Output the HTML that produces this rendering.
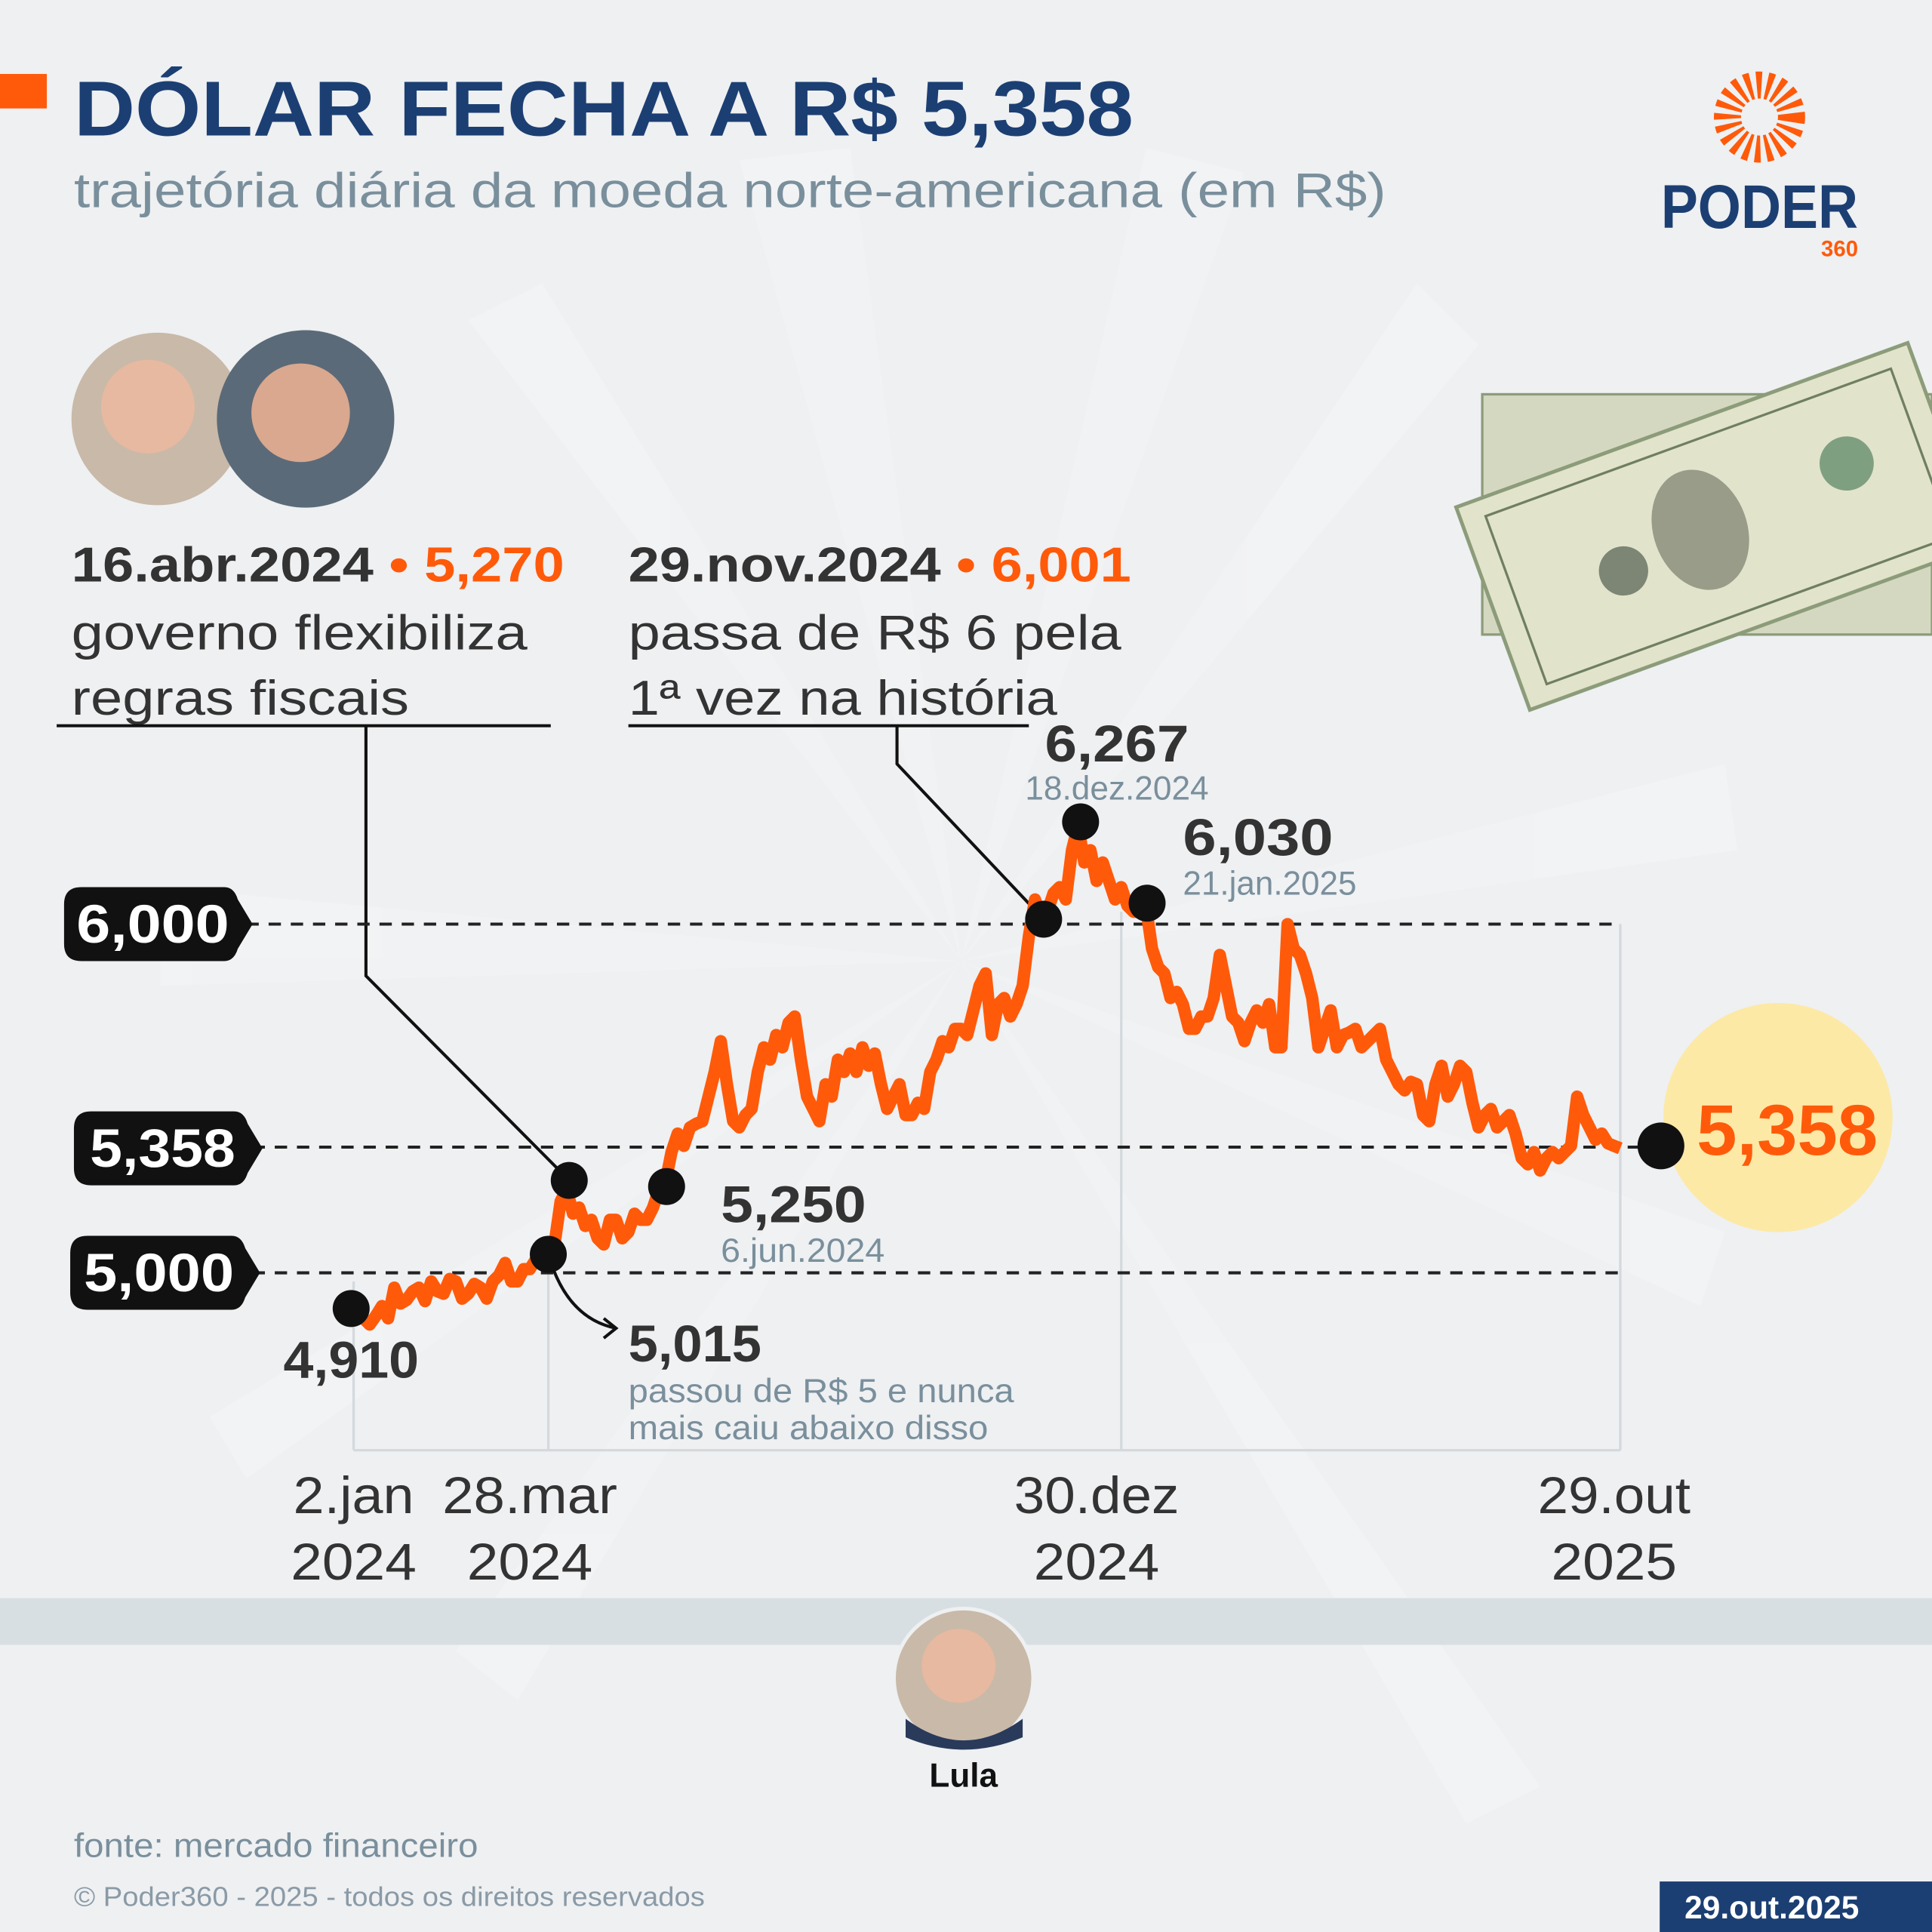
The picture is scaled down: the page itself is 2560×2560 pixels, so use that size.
<!DOCTYPE html>
<html><head><meta charset="utf-8"><style>
html,body{margin:0;padding:0;background:#eef0f2;}
svg{display:block}
text{font-family:"Liberation Sans",sans-serif;}
</style></head><body>
<svg width="2560" height="2560" viewBox="0 0 1568 1568" xmlns="http://www.w3.org/2000/svg">
<rect width="1568" height="1568" fill="#eef0f2"/>
<g fill="#f3f4f6" opacity="0.7">
<polygon points="780,780 600,130 690,120"/>
<polygon points="780,780 930,120 1010,140"/>
<polygon points="780,780 1150,230 1200,280"/>
<polygon points="780,780 1400,620 1410,690"/>
<polygon points="780,780 1400,1000 1380,1060"/>
<polygon points="780,780 1250,1450 1190,1480"/>
<polygon points="780,780 380,260 440,230"/>
<polygon points="780,780 130,720 130,800"/>
<polygon points="780,780 200,1200 170,1150"/>
<polygon points="780,780 420,1380 370,1340"/>
</g>
<rect x="0" y="60" width="38" height="28" fill="#ff5a0a"/>
<text x="60" y="110" font-size="63" font-weight="bold" fill="#1c3f73" textLength="860" lengthAdjust="spacingAndGlyphs">DÓLAR FECHA A R$ 5,358</text>
<text x="60" y="168" font-size="40" fill="#7a8f9c" textLength="1065" lengthAdjust="spacingAndGlyphs">trajetória diária da moeda norte-americana (em R$)</text>
<!-- logo -->
<circle cx="1428" cy="95" r="26" fill="none" stroke="#ff5a0a" stroke-dasharray="4 4" stroke-width="22"/>
<circle cx="1428" cy="95" r="14" fill="#eef0f2"/>
<text x="1428" y="185" font-size="50" font-weight="bold" fill="#1c3f73" text-anchor="middle" textLength="160" lengthAdjust="spacingAndGlyphs">PODER</text>
<text x="1508" y="208" font-size="18" font-weight="bold" fill="#ff5a0a" text-anchor="end">360</text>
<!-- photos -->
<circle cx="128" cy="340" r="70" fill="#c9b9a8"/>
<circle cx="120" cy="330" r="38" fill="#e6b9a0"/>
<circle cx="248" cy="340" r="72" fill="#5b6a78"/>
<circle cx="244" cy="335" r="40" fill="#d9a88f"/>
<!-- dollar bills -->
<rect x="1203" y="320" width="365" height="195" fill="#d5d8c0" stroke="#8c9c7a" stroke-width="2"/>
<g transform="rotate(-20 1380 430)">
<rect x="1200" y="345" width="390" height="175" fill="#e2e3cb" stroke="#8c9c7a" stroke-width="3"/>
<rect x="1220" y="360" width="350" height="145" fill="none" stroke="#6f7f60" stroke-width="2"/>
<ellipse cx="1380" cy="430" rx="38" ry="50" fill="#9a9c8a"/>
<circle cx="1310" cy="440" r="20" fill="#7d8575"/>
<circle cx="1510" cy="420" r="22" fill="#7fa080"/>
</g>
<!-- annotation texts -->
<text x="58" y="472" font-size="40" font-weight="bold" fill="#333" textLength="400" lengthAdjust="spacingAndGlyphs"><tspan>16.abr.2024 </tspan><tspan fill="#ff5a0a">• 5,270</tspan></text>
<text x="58" y="527" font-size="40" fill="#333" textLength="370" lengthAdjust="spacingAndGlyphs">governo flexibiliza</text>
<text x="58" y="580" font-size="40" fill="#333" textLength="274" lengthAdjust="spacingAndGlyphs">regras fiscais</text>
<text x="510" y="472" font-size="40" font-weight="bold" fill="#333" textLength="408" lengthAdjust="spacingAndGlyphs"><tspan>29.nov.2024 </tspan><tspan fill="#ff5a0a">• 6,001</tspan></text>
<text x="510" y="527" font-size="40" fill="#333" textLength="400" lengthAdjust="spacingAndGlyphs">passa de R$ 6 pela</text>
<text x="510" y="580" font-size="40" fill="#333" textLength="348" lengthAdjust="spacingAndGlyphs">1ª vez na história</text>
<g stroke="#111" stroke-width="2.5" fill="none">
<line x1="46" y1="589" x2="447" y2="589"/>
<polyline points="297,589 297,792 462,958"/>
<line x1="510" y1="589" x2="835" y2="589"/>
<polyline points="728,589 728,620 847,746"/>
<path d="M445,1018 Q460,1070 500,1078"/>
<polyline points="490,1070 500,1078 490,1086"/>
</g>
<!-- gridlines -->
<g stroke="#d4d9dd" stroke-width="2" fill="none">
<line x1="287" y1="1040" x2="287" y2="1177"/>
<line x1="445" y1="1020" x2="445" y2="1177"/>
<line x1="910" y1="740" x2="910" y2="1177"/>
<line x1="1315" y1="750" x2="1315" y2="1177"/>
<line x1="287" y1="1177" x2="1315" y2="1177"/>
</g>
<g stroke="#222" stroke-width="2.5" stroke-dasharray="10 8">
<line x1="200" y1="750" x2="1315" y2="750"/>
<line x1="205" y1="931" x2="1340" y2="931"/>
<line x1="205" y1="1033" x2="1315" y2="1033"/>
</g>
<!-- series -->
<polyline fill="none" stroke="#ff5a0a" stroke-width="10" stroke-linejoin="round" points="290,1065 300,1075 305,1068 310,1060 315,1070 320,1045 325,1058 330,1055 335,1048 340,1045 345,1056 350,1040 355,1048 360,1050 365,1038 370,1040 375,1054 380,1050 385,1042 390,1045 395,1054 400,1040 405,1035 410,1025 415,1040 420,1040 425,1030 430,1030 435,1022 440,1020 445,1018 450,1010 455,975 460,965 465,985 470,980 475,995 480,990 485,1005 490,1010 495,990 500,990 505,1005 510,1000 515,985 520,990 525,990 530,980 535,965 540,960 545,935 550,920 555,930 560,915 565,912 570,910 575,890 580,870 585,845 590,880 595,910 600,915 605,905 610,900 615,870 620,850 625,860 630,840 635,850 640,830 645,825 650,860 655,890 660,900 665,910 670,880 675,890 680,860 685,870 690,855 695,870 700,850 705,865 710,855 715,880 720,900 725,890 730,880 735,905 740,905 745,895 750,900 755,870 760,860 765,845 770,850 775,835 780,835 785,840 790,820 795,800 800,790 805,840 810,815 815,810 820,825 825,815 830,800 835,760 840,730 845,745 850,740 855,725 860,720 865,730 870,690 875,670 880,700 885,690 890,715 895,700 900,715 905,730 910,720 915,735 920,740 925,740 930,735 935,770 940,785 945,790 950,810 955,805 960,815 965,835 970,835 975,825 980,825 985,810 990,775 995,800 1000,825 1005,830 1010,845 1015,830 1020,820 1025,830 1030,815 1035,850 1040,850 1045,750 1050,770 1055,775 1060,790 1065,810 1070,850 1075,835 1080,820 1085,850 1090,840 1095,838 1100,835 1105,850 1110,845 1115,840 1120,835 1125,860 1130,870 1135,880 1140,885 1145,878 1150,880 1155,905 1160,910 1165,880 1170,865 1175,890 1180,880 1185,865 1190,870 1195,895 1200,915 1205,905 1210,900 1215,915 1220,910 1225,905 1230,920 1235,940 1240,945 1245,935 1250,950 1255,940 1260,935 1265,940 1270,935 1275,930 1280,890 1285,905 1290,915 1295,925 1300,920 1305,928 1310,930 1315,932"/>
<!-- dots -->
<g fill="#111">
<circle cx="285" cy="1062" r="15"/>
<circle cx="445" cy="1018" r="15"/>
<circle cx="462" cy="958" r="15"/>
<circle cx="541" cy="963" r="15"/>
<circle cx="847" cy="746" r="15"/>
<circle cx="877" cy="667" r="15"/>
<circle cx="931" cy="733" r="15"/>
</g>
<g font-size="42" font-weight="bold" fill="#333">
<text x="230" y="1118" textLength="110" lengthAdjust="spacingAndGlyphs">4,910</text>
<text x="510" y="1105" textLength="108" lengthAdjust="spacingAndGlyphs">5,015</text>
<text x="585" y="992" textLength="118" lengthAdjust="spacingAndGlyphs">5,250</text>
<text x="848" y="618" textLength="117" lengthAdjust="spacingAndGlyphs">6,267</text>
<text x="960" y="694" textLength="122" lengthAdjust="spacingAndGlyphs">6,030</text>
</g>
<g font-size="27" fill="#7a8f9c">
<text x="510" y="1138" textLength="313" lengthAdjust="spacingAndGlyphs">passou de R$ 5 e nunca</text>
<text x="510" y="1168" textLength="292" lengthAdjust="spacingAndGlyphs">mais caiu abaixo disso</text>
<text x="585" y="1024" textLength="133" lengthAdjust="spacingAndGlyphs">6.jun.2024</text>
<text x="832" y="649" textLength="149" lengthAdjust="spacingAndGlyphs">18.dez.2024</text>
<text x="960" y="726" textLength="141" lengthAdjust="spacingAndGlyphs">21.jan.2025</text>
</g>
<!-- y labels -->
<g fill="#111">
<path d="M66,720 H182 Q190,720 193,730 L205,750 L193,770 Q190,780 182,780 H66 Q52,780 52,766 V734 Q52,720 66,720Z"/>
<path d="M74,902 H190 Q198,902 201,912 L213,932 L201,952 Q198,962 190,962 H74 Q60,962 60,948 V916 Q60,902 74,902Z"/>
<path d="M71,1003 H188 Q196,1003 199,1013 L211,1033 L199,1053 Q196,1063 188,1063 H71 Q57,1063 57,1049 V1017 Q57,1003 71,1003Z"/>
</g>
<g font-size="44" font-weight="bold" fill="#fff" text-anchor="middle">
<text x="124" y="765" textLength="124" lengthAdjust="spacingAndGlyphs">6,000</text>
<text x="132" y="947" textLength="118" lengthAdjust="spacingAndGlyphs">5,358</text>
<text x="129" y="1048" textLength="122" lengthAdjust="spacingAndGlyphs">5,000</text>
</g>
<circle cx="1443" cy="907" r="93" fill="#fde9a6"/>
<circle cx="1348" cy="930" r="19" fill="#111"/>
<text x="1377" y="937" font-size="58" font-weight="bold" fill="#ff5a0a" textLength="147" lengthAdjust="spacingAndGlyphs">5,358</text>
<!-- x labels -->
<g font-size="42" fill="#333" text-anchor="middle">
<text x="287" y="1228" textLength="98" lengthAdjust="spacingAndGlyphs">2.jan</text><text x="287" y="1282" textLength="102" lengthAdjust="spacingAndGlyphs">2024</text>
<text x="430" y="1228" textLength="142" lengthAdjust="spacingAndGlyphs">28.mar</text><text x="430" y="1282" textLength="102" lengthAdjust="spacingAndGlyphs">2024</text>
<text x="890" y="1228" textLength="134" lengthAdjust="spacingAndGlyphs">30.dez</text><text x="890" y="1282" textLength="102" lengthAdjust="spacingAndGlyphs">2024</text>
<text x="1310" y="1228" textLength="124" lengthAdjust="spacingAndGlyphs">29.out</text><text x="1310" y="1282" textLength="102" lengthAdjust="spacingAndGlyphs">2025</text>
</g>
<rect x="0" y="1297" width="1568" height="38" fill="#d8dfe3"/>
<circle cx="782" cy="1362" r="58" fill="#eef0f2"/>
<circle cx="782" cy="1362" r="55" fill="#c9b9a8"/>
<circle cx="778" cy="1352" r="30" fill="#e6b9a0"/>
<path d="M735,1395 Q782,1430 830,1395 L830,1410 Q782,1430 735,1410Z" fill="#2a3a5a"/>
<text x="782" y="1450" font-size="27" font-weight="bold" fill="#111" text-anchor="middle">Lula</text>
<text x="60" y="1507" font-size="27" fill="#7a8f9c" textLength="328" lengthAdjust="spacingAndGlyphs">fonte: mercado financeiro</text>
<text x="60" y="1547" font-size="22" fill="#8a9aa6" textLength="512" lengthAdjust="spacingAndGlyphs">© Poder360 - 2025 - todos os direitos reservados</text>
<rect x="1347" y="1527" width="221" height="41" fill="#1c3f73"/>
<text x="1438" y="1557" font-size="26" font-weight="bold" fill="#fff" text-anchor="middle">29.out.2025</text>
</svg>
</body></html>
